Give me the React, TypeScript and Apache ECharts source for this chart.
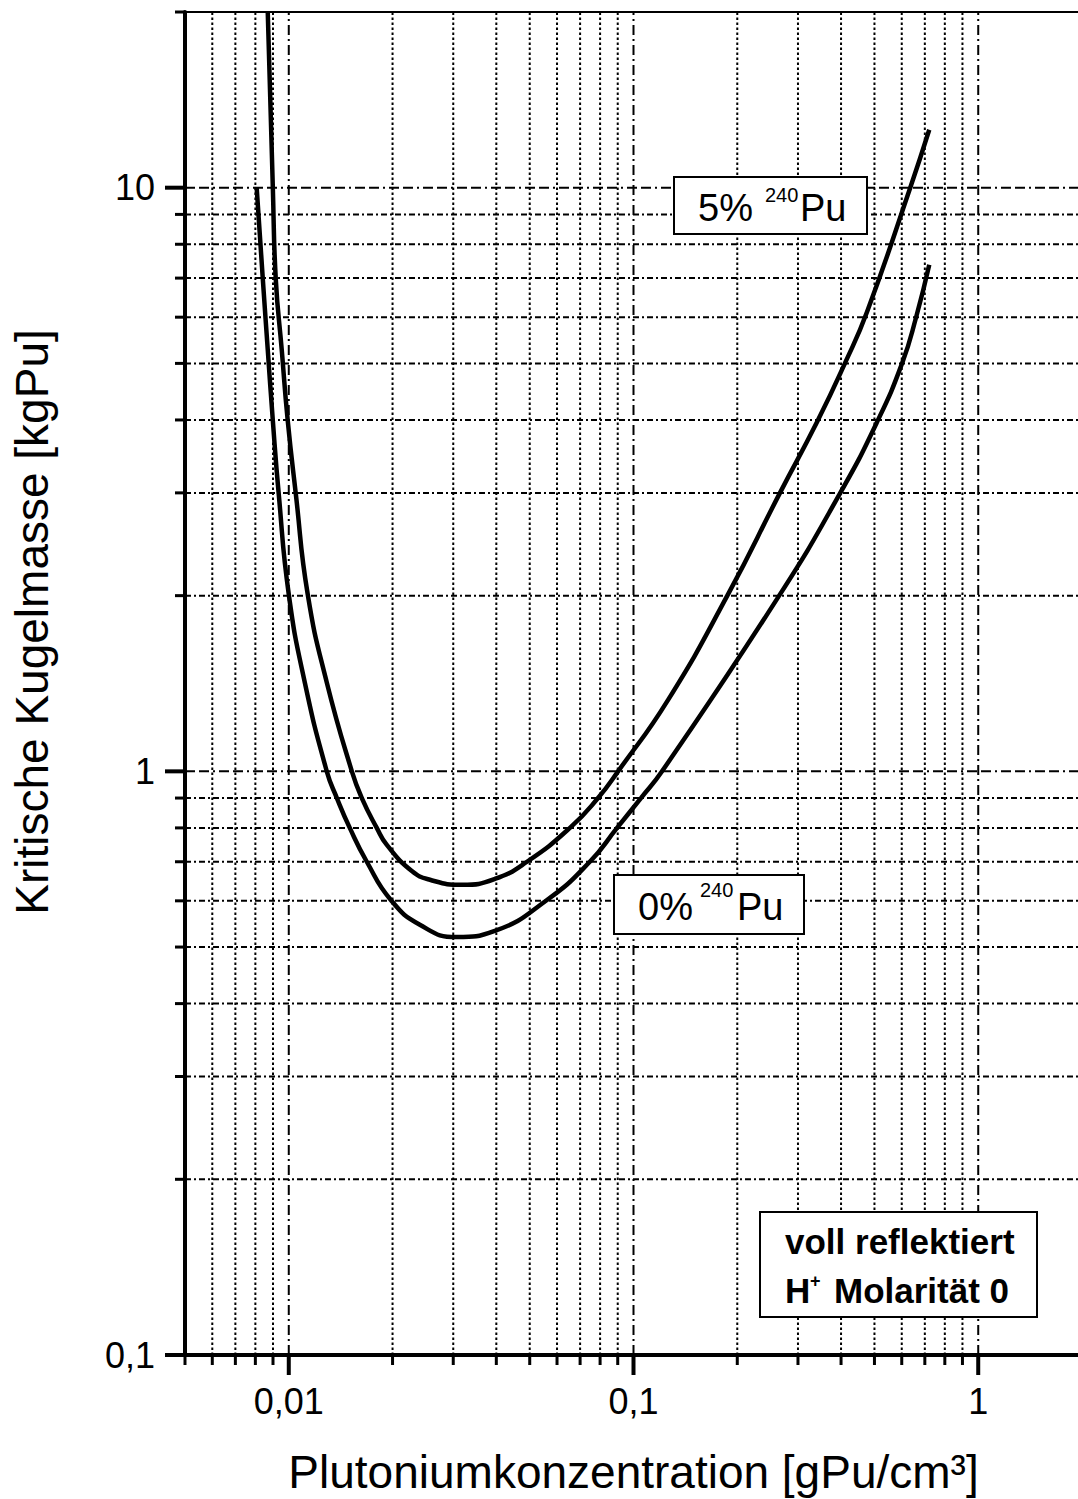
import React, { useEffect, useRef } from 'react';
import * as echarts from 'echarts';

const X_MIN = 0.005;
const X_MAX = 2;
const Y_MIN = 0.1;
const Y_MAX = 20;

const xMajorTicks = [0.01, 0.1, 1];
const xMajorLabels = ['0,01', '0,1', '1'];
const xMinorTicks = [
  0.005, 0.006, 0.007, 0.008, 0.009,
  0.02, 0.03, 0.04, 0.05, 0.06, 0.07, 0.08, 0.09,
  0.2, 0.3, 0.4, 0.5, 0.6, 0.7, 0.8, 0.9, 2,
];
const yMajorTicks = [0.1, 1, 10];
const yMajorLabels = ['0,1', '1', '10'];
const yMinorTicks = [
  0.2, 0.3, 0.4, 0.5, 0.6, 0.7, 0.8, 0.9,
  2, 3, 4, 5, 6, 7, 8, 9, 20,
];

// 5 % Pu-240 curve (concentration gPu/cm³, critical mass kgPu)
const conc5 = [0.00869, 0.00899, 0.00917, 0.00954, 0.00993, 0.01048, 0.01135, 0.01289, 0.01524, 0.01629, 0.018, 0.01925, 0.02275, 0.02567, 0.0318, 0.0396, 0.0491, 0.0654, 0.0789, 0.0902, 0.126, 0.188, 0.266, 0.341, 0.411, 0.476, 0.635, 0.721];
const mass5 = [20, 10, 6.96, 5.28, 3.99, 2.99, 2.01, 1.42, 1.0, 0.9, 0.8, 0.748, 0.675, 0.652, 0.639, 0.654, 0.7, 0.8, 0.9, 1.0, 1.326, 2.01, 3.0, 3.97, 5.01, 6.13, 10, 12.57];

// 0 % Pu-240 curve
const conc0 = [0.00807, 0.00841, 0.00869, 0.00899, 0.00935, 0.01, 0.01113, 0.01289, 0.01379, 0.01503, 0.01684, 0.01977, 0.024, 0.0307, 0.0396, 0.0561, 0.0747, 0.0896, 0.1051, 0.121, 0.266, 0.398, 0.509, 0.602, 0.661, 0.721];
const mass0 = [10, 6.96, 5.28, 3.99, 2.99, 2.01, 1.42, 1.0, 0.9, 0.8, 0.7, 0.602, 0.546, 0.52, 0.533, 0.602, 0.7, 0.8, 0.9, 1.0, 2.01, 3.0, 3.97, 5.01, 6.01, 7.38];

const FONT = 'Liberation Sans, Arial, Helvetica, sans-serif';
const GRID_COLOR = '#000';
const V_MAJOR_DASH = [10, 4, 2, 4];
const H_MAJOR_DASH = [10, 4, 10, 4, 2, 4];
const V_MINOR_DASH = [2.5, 2.5];
const H_MINOR_DASH = [6, 3, 2, 3];

const same = (a: number, b: number) => Math.abs(Math.log10(a) - Math.log10(b)) < 1e-6;

const zip = (xs: number[], ys: number[]) => xs.map((x, i) => [x, ys[i]]);

export default function App() {
  const ref = useRef<HTMLDivElement>(null);

  useEffect(() => {
    if (!ref.current) return;
    const chart = echarts.init(ref.current, null, { renderer: 'svg' });

    const vData = xMinorTicks.map((v) => [v, Y_MIN, 0]).concat(xMajorTicks.map((v) => [v, Y_MIN, 1]));
    const hData = yMinorTicks.map((v) => [X_MIN, v, 0]).concat(yMajorTicks.map((v) => [X_MIN, v, 1]));

    const vRender = (_p: any, api: any) => {
      const v = api.value(0);
      const major = api.value(2) === 1;
      const b = api.coord([v, Y_MIN]);
      const t = api.coord([v, Y_MAX]);
      const children: any[] = [];
      if (!same(v, X_MIN) && !same(v, X_MAX)) {
        children.push({
          type: 'line',
          shape: { x1: b[0], y1: b[1], x2: t[0], y2: t[1] },
          style: { stroke: GRID_COLOR, lineWidth: 2, lineDash: major ? V_MAJOR_DASH : V_MINOR_DASH },
        });
      }
      children.push({
        type: 'line',
        shape: { x1: b[0], y1: b[1], x2: b[0], y2: b[1] + (major ? 20 : 10) },
        style: { stroke: '#000', lineWidth: major ? 4 : 3 },
      });
      return { type: 'group', children };
    };

    const hRender = (_p: any, api: any) => {
      const v = api.value(1);
      const major = api.value(2) === 1;
      const l = api.coord([X_MIN, v]);
      const r = api.coord([X_MAX, v]);
      const children: any[] = [];
      if (!same(v, Y_MIN) && !same(v, Y_MAX)) {
        children.push({
          type: 'line',
          shape: { x1: l[0], y1: l[1], x2: r[0], y2: r[1] },
          style: { stroke: GRID_COLOR, lineWidth: 2, lineDash: major ? H_MAJOR_DASH : H_MINOR_DASH },
        });
      }
      children.push({
        type: 'line',
        shape: { x1: l[0], y1: l[1], x2: l[0] - (major ? 20 : 10), y2: l[1] },
        style: { stroke: '#000', lineWidth: major ? 4 : 3 },
      });
      return { type: 'group', children };
    };

    const labelFor = (ticks: number[], labels: string[]) => (v: number) => {
      const i = ticks.findIndex((t) => same(t, v));
      return i >= 0 ? labels[i] : '';
    };

    const box = (x: number, y: number, w: number, h: number) => ({
      type: 'rect',
      z: 20,
      shape: { x, y, width: w, height: h },
      style: { fill: '#fff', stroke: '#000', lineWidth: 2 },
    });
    const txt = (x: number, y: number, text: string, size: number, weight: string = 'normal', extra: any = {}) => ({
      type: 'text',
      z: 21,
      x,
      y,
      ...extra,
      style: {
        text,
        fontSize: size,
        fontFamily: FONT,
        fontWeight: weight,
        fill: '#000',
        align: extra.align || 'left',
        textAlign: extra.align || 'left',
        verticalAlign: 'middle',
        textVerticalAlign: 'middle',
      },
    });

    chart.setOption({
      animation: false,
      backgroundColor: '#fff',
      grid: {
        left: 185,
        top: 12,
        width: 897,
        height: 1343,
        show: true,
        borderColor: '#000',
        borderWidth: 2,
        backgroundColor: 'transparent',
        containLabel: false,
        outerBoundsMode: 'none',
      },
      xAxis: {
        type: 'log',
        logBase: 10,
        min: X_MIN,
        max: X_MAX,
        name: 'Plutoniumkonzentration [gPu/cm³]',
        nameLocation: 'middle',
        nameGap: 94,
        nameTextStyle: { fontSize: 46, color: '#000', fontFamily: FONT },
        axisLine: { show: true, onZero: false, lineStyle: { color: '#000', width: 4 } },
        axisTick: { show: false },
        minorTick: { show: false },
        splitLine: { show: false },
        axisLabel: {
          interval: 0,
          formatter: labelFor(xMajorTicks, xMajorLabels),
          fontSize: 36,
          color: '#000',
          fontFamily: FONT,
          margin: 28,
        },
      },
      yAxis: {
        type: 'log',
        logBase: 10,
        min: Y_MIN,
        max: Y_MAX,
        axisLine: { show: true, onZero: false, lineStyle: { color: '#000', width: 4 } },
        axisTick: { show: false },
        minorTick: { show: false },
        splitLine: { show: false },
        axisLabel: {
          interval: 0,
          showMinLabel: true,
          formatter: labelFor(yMajorTicks, yMajorLabels),
          fontSize: 36,
          color: '#000',
          fontFamily: FONT,
          margin: 30,
        },
      },
      series: [
        {
          type: 'custom',
          name: 'vgrid',
          silent: true,
          clip: false,
          z: 1,
          renderItem: vRender,
          data: vData,
        },
        {
          type: 'custom',
          name: 'hgrid',
          silent: true,
          clip: false,
          z: 1,
          renderItem: hRender,
          data: hData,
        },
        {
          type: 'line',
          name: '5% 240Pu',
          data: zip(conc5, mass5),
          showSymbol: false,
          symbol: 'none',
          smooth: 0.5,
          clip: true,
          z: 5,
          lineStyle: { color: '#000', width: 4.5 },
        },
        {
          type: 'line',
          name: '0% 240Pu',
          data: zip(conc0, mass0),
          showSymbol: false,
          symbol: 'none',
          smooth: 0.5,
          clip: true,
          z: 5,
          lineStyle: { color: '#000', width: 4.5 },
        },
      ],
      graphic: [
        txt(32, 622, 'Kritische Kugelmasse [kgPu]', 46, 'normal', { rotation: Math.PI / 2, align: 'center' }),
        box(674, 177, 193, 57),
        txt(698, 208, '5%', 38),
        txt(765, 195, '240', 20),
        txt(800, 208, 'Pu', 38),
        box(614, 875, 190, 59),
        txt(638, 907, '0%', 38),
        txt(700, 890, '240', 20),
        txt(737, 907, 'Pu', 38),
        box(760, 1212, 277, 105),
        txt(785, 1241, 'voll reflektiert', 35, 'bold'),
        txt(785, 1290, 'H', 35, 'bold'),
        txt(810, 1281, '+', 18, 'bold'),
        txt(834, 1290, 'Molarität 0', 35, 'bold'),
      ],
    });

    return () => chart.dispose();
  }, []);

  return (
    <div
      ref={ref}
      style={{ position: 'absolute', left: 0, top: 0, width: 1078, height: 1499, background: '#fff' }}
    />
  );
}
